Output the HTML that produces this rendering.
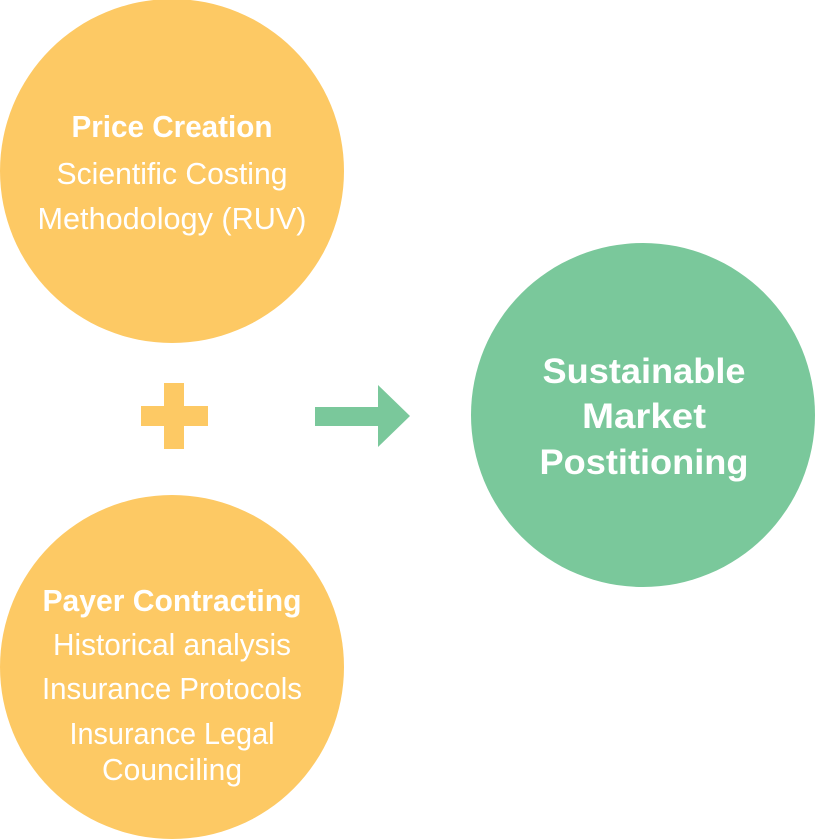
<!DOCTYPE html>
<html><head><meta charset="utf-8"><style>
html,body{margin:0;padding:0;background:#fff;width:815px;height:839px;overflow:hidden}
svg{display:block}
text{font-family:"Liberation Sans",sans-serif;fill:#fff;text-anchor:middle}
</style></head><body>
<svg width="815" height="839" viewBox="0 0 815 839">
<circle cx="172" cy="171" r="172" fill="#FDC964"/>
<circle cx="172" cy="667" r="172" fill="#FDC964"/>
<circle cx="643" cy="415" r="172" fill="#7AC89B"/>
<rect x="164" y="383" width="20" height="66" fill="#FDC964"/>
<rect x="141" y="406" width="67" height="20" fill="#FDC964"/>
<polygon points="315,407 378,407 378,385 410,416 378,447 378,426 315,426" fill="#7AC89B"/>
<g font-size="31">
<text x="172" y="137" font-weight="bold" textLength="201" lengthAdjust="spacingAndGlyphs">Price Creation</text>
<text x="172" y="184" textLength="231" lengthAdjust="spacingAndGlyphs">Scientific Costing</text>
<text x="172" y="229" textLength="269" lengthAdjust="spacingAndGlyphs">Methodology (RUV)</text>
<text x="172" y="611" font-weight="bold" textLength="259" lengthAdjust="spacingAndGlyphs">Payer Contracting</text>
<text x="172" y="655" textLength="238" lengthAdjust="spacingAndGlyphs">Historical analysis</text>
<text x="172" y="699" textLength="260" lengthAdjust="spacingAndGlyphs">Insurance Protocols</text>
<text x="172" y="744" textLength="205" lengthAdjust="spacingAndGlyphs">Insurance Legal</text>
<text x="172" y="780" textLength="140" lengthAdjust="spacingAndGlyphs">Counciling</text>
</g>
<g font-size="35" font-weight="bold">
<text x="644" y="383" textLength="203" lengthAdjust="spacingAndGlyphs">Sustainable</text>
<text x="644" y="428" textLength="124" lengthAdjust="spacingAndGlyphs">Market</text>
<text x="644" y="474" textLength="209" lengthAdjust="spacingAndGlyphs">Postitioning</text>
</g>
</svg>
</body></html>
